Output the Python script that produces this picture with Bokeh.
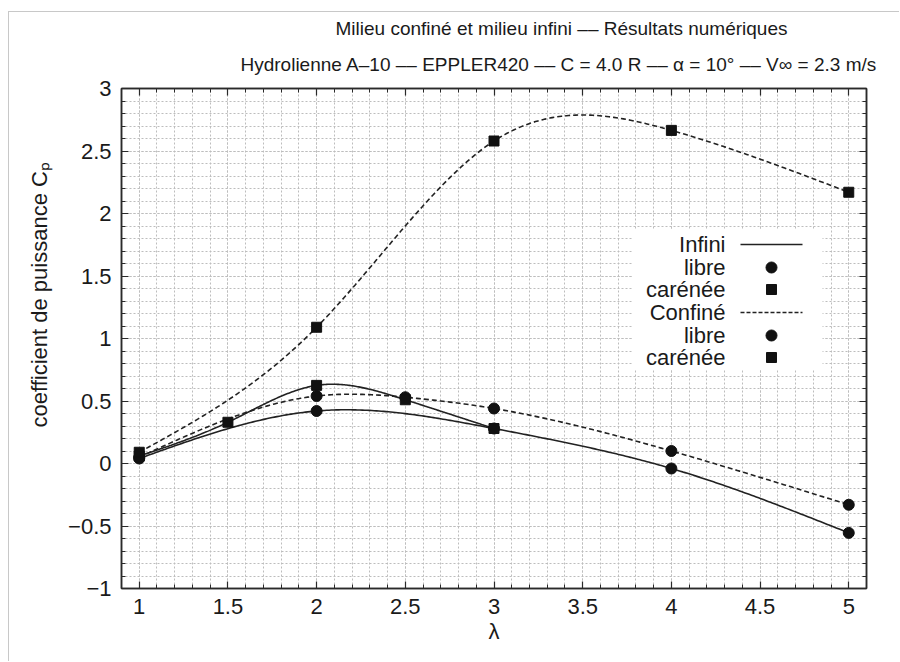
import numpy as np
from bokeh.plotting import figure
from bokeh.models import FixedTicker, LinearAxis, Label, BoxAnnotation, Range1d, Title
from bokeh.embed import file_html
from bokeh.resources import INLINE

# ---------------- data ----------------
lam_inf_libre = [1, 2, 3, 4, 5]
cp_inf_libre = [0.04, 0.42, 0.28, -0.04, -0.555]

lam_inf_car = [1, 1.5, 2, 2.5, 3]
cp_inf_car = [0.06, 0.33, 0.625, 0.51, 0.28]

lam_conf_libre = [1, 2, 2.5, 3, 4, 5]
cp_conf_libre = [0.05, 0.54, 0.53, 0.44, 0.10, -0.33]

lam_conf_car = [1, 2, 3, 4, 5]
cp_conf_car = [0.09, 1.09, 2.58, 2.665, 2.17]

x_ticks = [1, 1.5, 2, 2.5, 3, 3.5, 4, 4.5, 5]
x_tick_labels = ["1", "1.5", "2", "2.5", "3", "3.5", "4", "4.5", "5"]
y_ticks = [-1, -0.5, 0, 0.5, 1, 1.5, 2, 2.5, 3]
y_tick_labels = ["\u22121", "\u22120.5", "0", "0.5", "1", "1.5", "2", "2.5", "3"]

title_1 = "Milieu confiné et milieu infini \u2013\u2013 Résultats numériques"
title_2 = ("Hydrolienne A\u201310 \u2013\u2013 EPPLER420 \u2013\u2013 C = 4.0 R \u2013\u2013 "
           "\u03b1 = 10\u00b0 \u2013\u2013 V\u221e = 2.3 m/s")
x_label = "\u03bb"
y_label = "coefficient de puissance C\u209a"
legend_labels = ["Infini", "libre", "carénée", "Confiné", "libre", "carénée"]

FONT = "Liberation Sans"
TXT = "#1a1a1a"


def natural_spline(xs, ys, n=300):
    x = np.asarray(xs, float)
    y = np.asarray(ys, float)
    m = len(x)
    h = np.diff(x)
    A = np.zeros((m, m))
    r = np.zeros(m)
    A[0, 0] = A[-1, -1] = 1.0
    for i in range(1, m - 1):
        A[i, i - 1] = h[i - 1]
        A[i, i] = 2 * (h[i - 1] + h[i])
        A[i, i + 1] = h[i]
        r[i] = 6 * ((y[i + 1] - y[i]) / h[i] - (y[i] - y[i - 1]) / h[i - 1])
    M = np.linalg.solve(A, r)
    xx = np.linspace(x[0], x[-1], n)
    idx = np.clip(np.searchsorted(x, xx) - 1, 0, m - 2)
    x0 = x[idx]
    x1 = x[idx + 1]
    hh = x1 - x0
    t0 = x1 - xx
    t1 = xx - x0
    yy = (M[idx] * t0 ** 3 + M[idx + 1] * t1 ** 3) / (6 * hh) \
        + (y[idx] / hh - M[idx] * hh / 6) * t0 \
        + (y[idx + 1] / hh - M[idx + 1] * hh / 6) * t1
    return xx, yy


# page geometry: figure shifted by a margin + 1px light border (left/top), like the scanned frame
OX, OY = 9, 12
W, H = 900 - OX, 662 - OY
X0, X1, Y0, Y1 = 0.9, 5.1, -1.0, 3.0
FL, FR, FT, FB = 121, 866, 88, 588   # frame edges in page px

p = figure(width=W, height=H, output_backend="svg", toolbar_location=None,
           x_range=Range1d(X0, X1), y_range=Range1d(Y0, Y1),
           min_border_left=FL - OX, min_border_right=W - (FR - OX),
           min_border_top=FT - OY, min_border_bottom=H - (FB - OY),
           x_axis_location=None, y_axis_location=None)
p.background_fill_color = "white"
p.border_fill_color = "white"
p.outline_line_color = "#2a2a2a"
p.outline_line_width = 1.5
p.styles = {"margin-left": f"{OX - 1}px", "margin-top": f"{OY - 1}px",
            "border-left": "1px solid #c8c8c8", "border-top": "1px solid #c8c8c8"}

x_minor = [round(v, 2) for v in np.arange(0.9, 5.1001, 0.1)]
y_minor = [round(v, 2) for v in np.arange(-1.0, 3.0001, 0.1)]
xt = FixedTicker(ticks=x_ticks, minor_ticks=x_minor)
yt = FixedTicker(ticks=y_ticks, minor_ticks=y_minor)


def style_axis(ax, show_labels):
    ax.axis_line_color = "#2a2a2a"
    ax.axis_line_width = 1.5
    ax.major_tick_in = 7
    ax.major_tick_out = 0
    ax.minor_tick_in = 4
    ax.minor_tick_out = 0
    ax.major_tick_line_color = "#2a2a2a"
    ax.minor_tick_line_color = "#2a2a2a"
    ax.major_tick_line_width = 1.2
    ax.minor_tick_line_width = 1
    ax.major_label_text_font = FONT
    ax.major_label_text_font_size = "22px"
    ax.major_label_text_color = TXT
    ax.major_label_standoff = 10
    if not show_labels:
        ax.major_label_text_alpha = 0
        ax.major_label_text_font_size = "1px"
        ax.major_label_standoff = 0


xb = LinearAxis(ticker=xt, major_label_overrides=dict(zip(x_ticks, x_tick_labels)))
yl = LinearAxis(ticker=yt, major_label_overrides=dict(zip(y_ticks, y_tick_labels)))
xa = LinearAxis(ticker=xt)
yr = LinearAxis(ticker=yt)
style_axis(xb, True)
style_axis(yl, True)
style_axis(xa, False)
style_axis(yr, False)
xb.axis_label = x_label
xb.axis_label_text_font = FONT
xb.axis_label_text_font_size = "22px"
xb.axis_label_text_font_style = "normal"
xb.axis_label_text_color = TXT
xb.axis_label_standoff = 2
p.add_layout(xb, "below")
p.add_layout(yl, "left")
p.add_layout(xa, "above")
p.add_layout(yr, "right")

# titles (stacked outward from the frame: line 2 first, then line 1)
p.add_layout(Title(text=title_2, align="left", offset=119, standoff=27, text_font=FONT,
                   text_font_size="19px", text_font_style="normal", text_color=TXT), "above")
p.add_layout(Title(text=title_1, align="left", offset=214, standoff=0, text_font=FONT,
                   text_font_size="19px", text_font_style="normal", text_color=TXT), "above")
# y label as a side title, anchored at its start and shifted up like the original
p.add_layout(Title(text=y_label, align="left", offset=161, standoff=28, text_font=FONT,
                   text_font_size="22px", text_font_style="normal", text_color=TXT), "left")

p.xgrid.ticker = xt
p.ygrid.ticker = yt
for g in (p.xgrid, p.ygrid):
    g.grid_line_color = "#bdbdbd"
    g.grid_line_dash = "2 2"
    g.grid_line_width = 1
    g.minor_grid_line_color = "#bdbdbd"
    g.minor_grid_line_dash = "2 2"
    g.minor_grid_line_width = 1

LC = "#222222"
# curves (smooth cubic splines through the points, as in the reference)
for xs, ys, dash in [(lam_inf_libre, cp_inf_libre, "solid"),
                     (lam_inf_car, cp_inf_car, "solid"),
                     (lam_conf_libre, cp_conf_libre, "5 3"),
                     (lam_conf_car, cp_conf_car, "5 3")]:
    cx, cy = natural_spline(xs, ys)
    p.line(cx, cy, line_color=LC, line_width=1.6, line_dash=dash)

# markers
p.scatter(lam_inf_libre, cp_inf_libre, marker="circle", size=11, fill_color="#111111", line_color="#111111")
p.scatter(lam_conf_libre, cp_conf_libre, marker="circle", size=11, fill_color="#111111", line_color="#111111")
p.scatter(lam_inf_car, cp_inf_car, marker="square", size=10, fill_color="#111111", line_color="#111111")
p.scatter(lam_conf_car, cp_conf_car, marker="square", size=10, fill_color="#111111", line_color="#111111")


# ---------------- legend (text on the left, sample on the right) ----------------
def dx(px):
    return X0 + (px - FL) / (FR - FL) * (X1 - X0)


def dy(py):
    return Y1 - (py - FT) / (FB - FT) * (Y1 - Y0)


p.add_layout(BoxAnnotation(left=dx(632), right=dx(822), top=dy(229), bottom=dy(369),
                           fill_color="white", fill_alpha=1.0, line_alpha=0, level="underlay"))
rows = [244, 267, 289, 312, 335, 357]
kinds = ["solid", "circle", "square", "dash", "circle", "square"]
for lab, row, kind in zip(legend_labels, rows, kinds):
    p.add_layout(Label(x=dx(725), y=dy(row), text=lab, text_align="right", text_baseline="middle",
                       text_font=FONT, text_font_size="22px", text_color=TXT))
    if kind == "solid":
        p.line([dx(740), dx(802)], [dy(row), dy(row)], line_color=LC, line_width=1.6)
    elif kind == "dash":
        p.line([dx(740), dx(802)], [dy(row), dy(row)], line_color=LC, line_width=1.6, line_dash="4 2")
    else:
        p.scatter([dx(771)], [dy(row)], marker=kind, size=11 if kind == "circle" else 10,
                  fill_color="#111111", line_color="#111111")

open("out.html", "w").write(file_html(p, INLINE))
